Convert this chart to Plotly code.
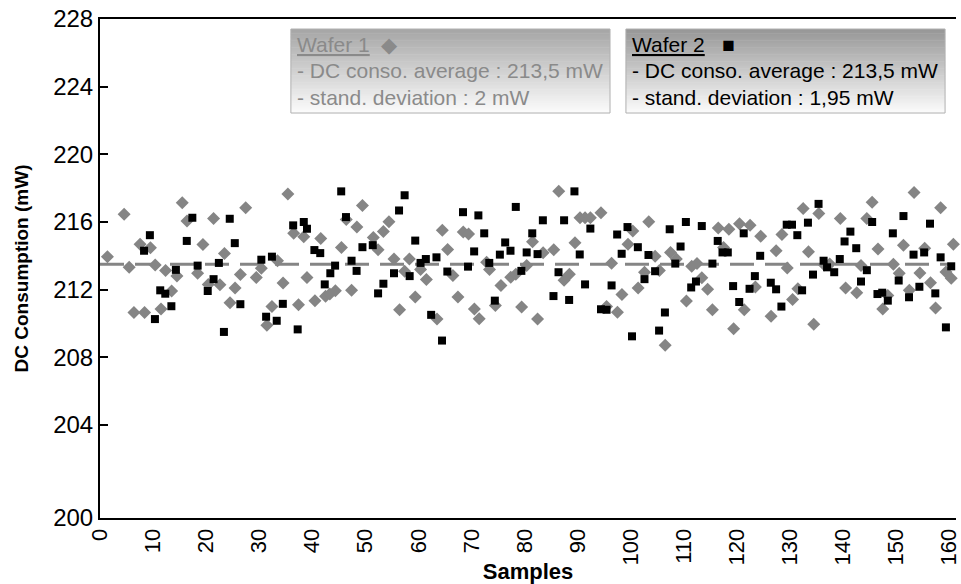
import plotly.graph_objects as go

# ---------------- data ----------------
w1_x = [1.4, 4.55, 5.5, 6.4, 7.55, 8.4, 9.5, 10.4, 11.5, 12.35, 13.5, 14.5, 15.5, 16.4, 18.4, 19.4,
        20.4, 21.4, 22.6, 23.45, 24.5, 25.45, 26.45, 27.45, 29.45, 30.4, 31.45, 32.4, 33.45, 34.5,
        35.4, 36.5, 37.4, 38.4, 39.0, 40.5, 41.6, 42.5, 43.3, 44.35, 45.5, 46.4, 47.4, 48.4, 49.45,
        51.5, 52.4, 53.4, 54.45, 55.4, 56.45, 57.4, 58.3, 59.4, 60.4, 61.5, 63.5, 64.5, 65.5, 66.5,
        67.45, 68.45, 69.45, 70.55, 71.45, 72.85, 73.4, 74.5, 75.55, 77.4, 78.35, 79.45, 80.4, 81.5,
        82.45, 83.5, 85.5, 86.45, 87.45, 88.45, 89.5, 90.45, 91.4, 92.4, 94.4, 95.45, 96.4, 97.5,
        98.35, 99.5, 100.4, 101.4, 102.6, 103.4, 104.6, 105.4, 106.5, 107.5, 108.6, 110.5, 111.5,
        112.5, 113.4, 114.5, 115.4, 116.5, 117.5, 118.5, 119.4, 120.5, 121.4, 122.5, 123.5, 124.5,
        126.45, 127.4, 128.5, 129.5, 130.5, 131.5, 132.5, 133.5, 134.5, 135.45, 136.5, 137.5, 139.5,
        140.5, 142.6, 143.4, 144.5, 145.5, 146.6, 147.5, 148.45, 149.5, 150.6, 151.4, 152.5, 153.4,
        154.5, 155.4, 156.5, 157.45, 158.4, 159.4, 160.4, 160.8]
w1_y = [213.95, 216.45, 213.32, 210.65, 214.69, 210.65, 214.47, 213.46, 210.85, 213.13, 211.92, 212.8,
        217.13, 216.06, 212.97, 214.67, 212.3, 216.21, 212.29, 214.14, 211.23, 212.09, 212.89, 216.84,
        212.72, 213.27, 209.89, 211.0, 213.71, 212.4, 217.66, 215.33, 211.1, 215.12, 212.72, 211.35,
        215.02, 211.61, 211.74, 211.94, 214.49, 216.15, 211.96, 215.7, 216.97, 215.08, 214.36, 215.43,
        216.02, 213.81, 210.81, 213.09, 213.81, 211.57, 213.19, 212.6, 210.26, 215.51, 214.38, 212.84,
        211.57, 215.41, 215.29, 210.86, 210.28, 213.62, 213.19, 211.06, 212.25, 212.74, 212.91, 210.98,
        213.42, 214.83, 210.26, 214.18, 214.36, 217.81, 212.56, 212.91, 214.77, 216.25, 216.25, 216.25,
        216.54, 211.0, 213.56, 210.67, 211.72, 214.69, 215.47, 212.09, 213.03, 216.02, 213.97, 213.13,
        208.72, 214.2, 213.81, 211.33, 213.38, 213.54, 212.7, 212.02, 210.81, 215.65, 214.49, 215.57,
        209.69, 215.9, 210.81, 215.8, 212.15, 215.16, 210.42, 214.3, 215.26, 213.28, 211.41, 212.05,
        216.8, 214.24, 209.95, 216.5, 213.46, 213.52, 216.21, 212.09, 211.82, 213.42, 216.21, 217.17,
        214.4, 210.85, 211.66, 213.5, 212.97, 214.63, 211.96, 217.75, 212.99, 214.45, 212.41, 210.92,
        216.84, 213.05, 212.68, 214.69]

w2_x = [8.3, 9.4, 10.35, 11.35, 12.3, 13.45, 14.3, 16.35, 17.4, 18.4, 20.3, 21.4, 22.4, 23.35, 24.45,
        25.4, 26.45, 30.4, 31.3, 32.4, 33.3, 34.45, 36.4, 37.25, 38.4, 39.0, 40.4, 41.5, 42.35, 43.4,
        44.3, 45.45, 46.35, 47.4, 48.35, 49.45, 51.4, 52.4, 53.4, 55.4, 56.35, 57.4, 58.35, 59.4, 60.4,
        61.4, 62.4, 63.4, 64.45, 65.45, 68.4, 69.35, 70.5, 71.3, 72.4, 73.35, 74.4, 75.35, 76.35, 77.35,
        78.35, 79.4, 80.4, 81.45, 82.45, 83.45, 85.45, 86.4, 87.45, 88.4, 89.4, 90.4, 91.4, 92.4, 94.4,
        95.45, 96.4, 97.45, 98.3, 99.4, 100.25, 101.35, 102.6, 103.35, 104.6, 105.35, 106.45, 107.35,
        108.4, 109.4, 110.4, 111.4, 112.3, 113.4, 115.4, 116.4, 117.3, 118.3, 119.3, 120.45, 121.3,
        122.4, 123.4, 124.4, 126.4, 127.4, 128.4, 129.4, 130.4, 131.4, 132.3, 133.4, 134.35, 135.4,
        136.35, 137.0, 138.35, 139.4, 140.3, 141.4, 142.5, 143.4, 144.5, 145.5, 146.5, 147.4, 148.45,
        149.4, 150.5, 151.4, 152.45, 153.3, 154.4, 155.3, 156.4, 157.4, 158.4, 159.4, 160.4]
w2_y = [214.3, 215.22, 210.26, 211.96, 211.76, 211.02, 213.17, 214.88, 216.25, 213.42, 211.92, 212.62,
        213.58, 209.5, 216.19, 214.75, 211.14, 213.77, 210.4, 213.95, 210.16, 211.16, 215.8, 209.65,
        216.0, 215.6, 214.34, 214.16, 212.31, 212.97, 213.42, 217.81, 216.29, 213.71, 213.11, 214.51,
        214.63, 211.78, 212.35, 212.97, 216.68, 217.58, 212.8, 214.9, 213.58, 213.81, 210.51, 213.91,
        208.99, 213.07, 216.58, 213.36, 214.26, 216.39, 215.33, 213.58, 211.35, 214.07, 214.79, 214.3,
        216.89, 213.11, 214.2, 215.33, 214.1, 216.1, 211.62, 213.03, 216.1, 211.39, 217.81, 214.08,
        212.31, 215.61, 210.84, 210.81, 212.25, 215.26, 214.12, 215.7, 209.24, 214.51, 212.62, 214.05,
        213.09, 209.58, 210.65, 215.57, 213.54, 214.55, 216.0, 212.13, 212.48, 215.76, 213.54, 214.88,
        214.2, 214.2, 212.21, 211.27, 215.33, 212.05, 212.8, 214.0, 212.41, 212.02, 211.0, 215.84,
        215.84, 215.22, 211.96, 215.96, 212.89, 217.07, 213.71, 213.32, 213.03, 213.81, 214.85, 215.43,
        214.45, 212.48, 213.15, 216.0, 211.74, 211.82, 211.35, 215.33, 212.54, 216.35, 211.55, 214.07,
        212.17, 214.2, 215.9, 211.78, 213.91, 209.77, 213.38]

avg_x = [0, 160]
avg_y = [213.5, 213.5]

y_axis_min, y_axis_max = 198.5, 228
y_tick_vals = [198.5, 204, 208, 212, 216, 220, 224, 228]
y_tick_text = ["200", "204", "208", "212", "216", "220", "224", "228"]
x_ticks = list(range(0, 161, 10))

legend1 = ["<u>Wafer 1</u>  \u25c6", "- DC conso. average : 213,5 mW", "- stand. deviation : 2 mW"]
legend2 = ["<u>Wafer 2</u>   \u25a0", "- DC conso. average : 213,5 mW", "- stand. deviation : 1,95 mW"]

# ---------------- figure ----------------
FONT = "Liberation Sans, Arial, sans-serif"
fig = go.Figure()

fig.add_trace(go.Scatter(x=avg_x, y=avg_y, mode="lines",
                         line=dict(color="#858585", width=3, dash="24px,11px"),
                         showlegend=False, hoverinfo="skip"))
fig.add_trace(go.Scatter(x=w1_x, y=w1_y, mode="markers", name="Wafer 1",
                         marker=dict(symbol="diamond", size=10, color="#858585"),
                         showlegend=False, cliponaxis=False))
fig.add_trace(go.Scatter(x=w2_x, y=w2_y, mode="markers", name="Wafer 2",
                         marker=dict(symbol="square", size=8, color="#000000"),
                         showlegend=False, cliponaxis=False))

L, T, B = 100, 19, 66
W, H = 961, 584
pw, ph = W - L, H - T - B

def px(xp):
    return (xp - L) / pw

def py(yp):
    return (H - B - yp) / ph

shapes = []
def gradient_box(x0, x1, y0, y1, top_gray, bot_gray, n=60):
    for i in range(n):
        ya = y0 + (y1 - y0) * i / n
        yb = y0 + (y1 - y0) * (i + 1) / n
        t = (i + 0.5) / n
        g = int(round(top_gray + (bot_gray - top_gray) * t))
        shapes.append(dict(type="rect", xref="paper", yref="paper",
                           x0=px(x0), x1=px(x1), y0=py(yb) - 0.001, y1=py(ya),
                           fillcolor=f"rgb({g},{g},{g})", line=dict(width=0), layer="above"))
    shapes.append(dict(type="rect", xref="paper", yref="paper",
                       x0=px(x0), x1=px(x1), y0=py(y1), y1=py(y0),
                       fillcolor="rgba(0,0,0,0)", line=dict(color="#b0b0b0", width=1), layer="above"))

gradient_box(292, 613, 29, 113, 165, 252)
gradient_box(629, 950, 29, 113, 150, 252)

annotations = []
for lines, x0, col in [(legend1, 296, "#8a8a8a"), (legend2, 633, "#000000")]:
    for i, txt in enumerate(lines):
        annotations.append(dict(text=txt, xref="paper", yref="paper", x=px(x0), y=py(44 + i * 26.5),
                                xanchor="left", yanchor="middle", showarrow=False,
                                font=dict(family=FONT, size=21, color=col)))

fig.update_layout(
    width=W, height=H,
    margin=dict(l=L, r=0, t=T, b=B),
    paper_bgcolor="white", plot_bgcolor="white",
    font=dict(family=FONT, size=22, color="#000"),
    shapes=shapes, annotations=annotations,
    xaxis=dict(range=[0, 161.3], tickvals=x_ticks, ticktext=[str(v) for v in x_ticks],
               tickangle=-90, showgrid=False, zeroline=False, showline=True,
               linecolor="#000", linewidth=2, mirror=True, ticks="",
               ticklabeloverflow="allow",
               tickfont=dict(family=FONT, size=22),
               title=dict(text="<b>Samples</b>", font=dict(family=FONT, size=22), standoff=0)),
    yaxis=dict(range=[y_axis_min, y_axis_max], tickvals=y_tick_vals, ticktext=y_tick_text,
               showgrid=False, zeroline=False, showline=True, linecolor="#000", linewidth=2,
               ticks="inside", ticklen=8, tickwidth=2, tickcolor="#000",
               tickfont=dict(family=FONT, size=24),
               title=dict(text="<b>DC Consumption (mW)</b>", font=dict(family=FONT, size=19), standoff=20)),
)

fig.write_html("out.html")
